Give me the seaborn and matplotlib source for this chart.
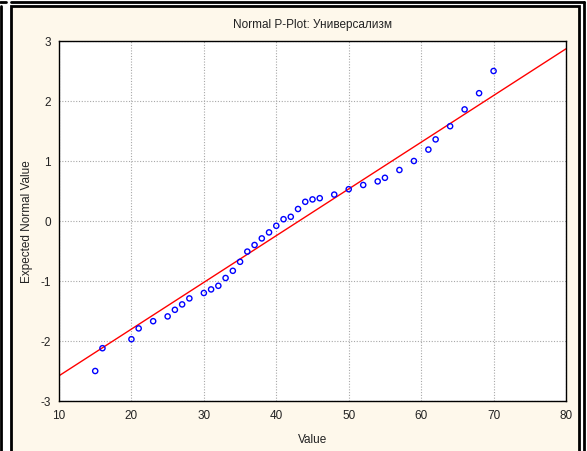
import numpy as np
import pandas as pd
import matplotlib
matplotlib.use("Agg")
import matplotlib.pyplot as plt
from matplotlib.patches import Rectangle
from matplotlib.lines import Line2D
import seaborn as sns

values = [15, 16, 20, 21, 23, 25, 26, 27, 28, 30, 31, 32, 33, 34, 35, 36, 37, 38, 39,
          40, 41, 42, 43, 44, 45, 46, 48, 50, 52, 54, 55, 57, 59, 61, 62, 64, 66, 68, 70]
expected = [-2.50, -2.12, -1.97, -1.79, -1.67, -1.59, -1.48, -1.39, -1.29, -1.20, -1.14,
            -1.08, -0.95, -0.83, -0.68, -0.51, -0.40, -0.29, -0.19, -0.08, 0.03, 0.07,
            0.20, 0.32, 0.36, 0.38, 0.44, 0.53, 0.60, 0.66, 0.72, 0.85, 1.00, 1.19, 1.36,
            1.58, 1.86, 2.13, 2.50]

# reference line end points
line_x = [10, 80]
line_y = [-2.58, 2.87]

x_ticks = [10, 20, 30, 40, 50, 60, 70, 80]
y_ticks = [-3, -2, -1, 0, 1, 2, 3]

title = "Normal P-Plot: Универсализм"
x_label = "Value"
y_label = "Expected Normal Value"

df = pd.DataFrame({"Value": values, "Expected": expected})
df_line = pd.DataFrame({"x": line_x, "y": line_y})

sns.set_style("white")
plt.rcParams["font.family"] = ["Liberation Sans", "DejaVu Sans"]
plt.rcParams["axes.unicode_minus"] = False

W, H = 587, 452
fig = plt.figure(figsize=(W / 100, H / 100), dpi=100)
fig.patch.set_facecolor("white")

# window decorations (pixel coords, y from the top), kept behind the axes
def px_rect(x0, y0, x1, y1, **kw):
    fig.add_artist(Rectangle((x0 / W, 1 - y1 / H), (x1 - x0) / W, (y1 - y0) / H,
                             transform=fig.transFigure, zorder=-2, **kw))

def px_line(xs, ys, lw=2):
    fig.add_artist(Line2D([x / W for x in xs], [1 - y / H for y in ys],
                          transform=fig.transFigure, color="black", lw=lw, zorder=-1))

px_rect(11, 7, 579, 460, facecolor="#FEF8EB", edgecolor="black", lw=2)
px_line([11, 584], [3, 3], lw=2)
px_line([584, 584], [3, 460], lw=2)
px_line([1, 1], [7, 460], lw=2)
px_line([0, 6], [3, 3], lw=2)

ax = fig.add_axes([59 / W, 1 - 402 / H, (566 - 59) / W, (402 - 42) / H])
ax.set_facecolor("white")

sns.lineplot(data=df_line, x="x", y="y", color="red", lw=1, ax=ax, zorder=2)
sns.scatterplot(data=df, x="Value", y="Expected", marker="o", s=14,
                facecolors="none", edgecolor="blue", linewidth=1, ax=ax, zorder=3)

ax.set_xlim(10, 80)
ax.set_ylim(-3, 3)
ax.set_xticks(x_ticks)
ax.set_yticks(y_ticks)
ax.grid(True, color="#A8A8A8", linestyle=(0, (1, 1.5)), linewidth=0.8)
for s in ax.spines.values():
    s.set_color("black")
    s.set_linewidth(1)
ax.tick_params(axis="both", direction="out", length=3, width=0.8,
               labelsize=8.5, colors="black", labelcolor="#222222", pad=3)

ax.set_xlabel(x_label, fontsize=8.5, color="#222222")
ax.set_ylabel(y_label, fontsize=8.5, color="#222222")
ax.xaxis.set_label_coords(0.5, -0.088)
ax.yaxis.set_label_coords(-0.051, 0.5)
ax.set_title(title, fontsize=8.5, color="#222222", pad=10)

fig.savefig("out.png", dpi=100, facecolor=fig.get_facecolor())
